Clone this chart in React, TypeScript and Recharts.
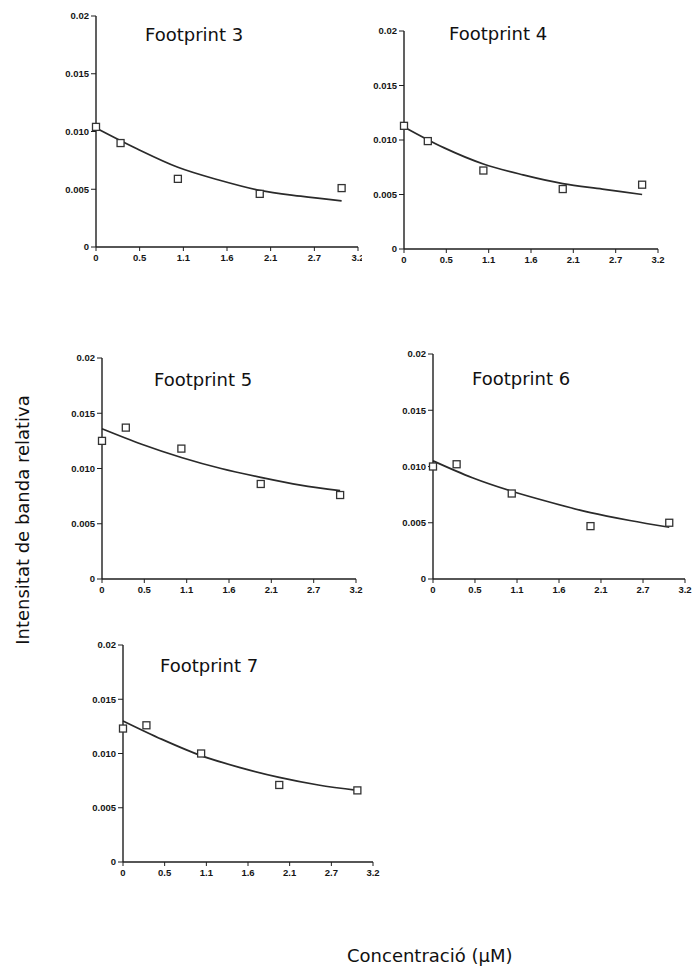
import React from 'react'
import { ComposedChart, Line, Scatter, XAxis, YAxis } from 'recharts'

// concentrations of the measured points (µM)
const conc = [0, 0.3, 1.0, 2.0, 3.0]
// concentrations where the fitted curve was read
const fitConc = [0, 0.5, 1.0, 1.5, 2.0, 2.5, 3.0]

const fp3Points = [0.0104, 0.0090, 0.0059, 0.0046, 0.0051]
const fp3Fit = [0.0103, 0.0085, 0.0069, 0.0058, 0.0049, 0.0044, 0.0040]

const fp4Points = [0.0113, 0.0099, 0.0072, 0.0055, 0.0059]
const fp4Fit = [0.0112, 0.0093, 0.0078, 0.0068, 0.0060, 0.0055, 0.0050]

const fp5Points = [0.0125, 0.0137, 0.0118, 0.0086, 0.0076]
const fp5Fit = [0.0136, 0.0122, 0.0110, 0.0100, 0.0092, 0.0085, 0.0080]

const fp6Points = [0.0100, 0.0102, 0.0076, 0.0047, 0.0050]
const fp6Fit = [0.0105, 0.0090, 0.0078, 0.0068, 0.0059, 0.0052, 0.0046]

const fp7Points = [0.0123, 0.0126, 0.0100, 0.0071, 0.0066]
const fp7Fit = [0.0130, 0.0113, 0.0098, 0.0087, 0.0078, 0.0071, 0.0066]

const xTicks = [0, 0.533, 1.067, 1.6, 2.133, 2.667, 3.2]
const xTickLabels = ['0', '0.5', '1.1', '1.6', '2.1', '2.7', '3.2']
const yTicks = [0, 0.005, 0.01, 0.015, 0.02]
const yTickLabels = ['0', '0.005', '0.010', '0.015', '0.02']

const INK = '#1e1e1e'
const tickFont = { fontSize: 9.5, fontWeight: 700, fill: '#151515', fontFamily: '"Liberation Sans Narrow", "Liberation Sans", Arial, sans-serif' }

const ML = 45
const MT = 5
const MR = 15
const XH = 25

const toPoints = (ys: number[]) => ys.map((y, i) => ({ x: conc[i], y }))
const toFit = (ys: number[]) => ys.map((y, i) => ({ x: fitConc[i], y }))

const Square = (props: any) => {
  const { cx, cy } = props
  if (cx == null || cy == null) return null
  return <rect x={cx - 3.5} y={cy - 3.5} width={7} height={7} fill="#fff" stroke="#333" strokeWidth={1.3} />
}

interface PanelProps {
  title: string
  points: number[]
  fit: number[]
  box: { left: number; top: number; width: number; height: number }
  titlePos: { left: number; top: number }
  clipRight?: number
}

function Panel({ title, points, fit, box, titlePos, clipRight }: PanelProps) {
  const chartLeft = box.left - ML
  const chartTop = box.top - MT
  const w = ML + box.width + MR
  const h = MT + box.height + XH
  const outerW = clipRight ? clipRight - chartLeft : w
  return (
    <>
      <div style={{ position: 'absolute', left: chartLeft, top: chartTop, width: outerW, height: h, overflow: 'hidden' }}>
        <ComposedChart width={w} height={h} margin={{ top: MT, right: MR, bottom: 0, left: 0 }}>
          <XAxis
            type="number"
            dataKey="x"
            domain={[0, 3.2]}
            ticks={xTicks}
            interval={0}
            tickFormatter={(_v: number, i: number) => xTickLabels[i]}
            tick={tickFont}
            tickSize={4}
            tickMargin={3}
            height={XH}
            axisLine={{ stroke: INK, strokeWidth: 1.6 }}
            tickLine={{ stroke: INK, strokeWidth: 1 }}
          />
          <YAxis
            type="number"
            dataKey="y"
            domain={[0, 0.02]}
            ticks={yTicks}
            interval={0}
            tickFormatter={(_v: number, i: number) => yTickLabels[i]}
            tick={tickFont}
            tickSize={5}
            tickMargin={2}
            width={ML}
            axisLine={{ stroke: INK, strokeWidth: 1.4 }}
            tickLine={{ stroke: INK, strokeWidth: 1 }}
          />
          <Line
            data={toFit(fit)}
            dataKey="y"
            type="monotone"
            stroke="#2a2a2a"
            strokeWidth={1.7}
            dot={false}
            isAnimationActive={false}
          />
          <Scatter data={toPoints(points)} dataKey="y" shape={Square} isAnimationActive={false} />
        </ComposedChart>
      </div>
      <div
        style={{
          position: 'absolute',
          left: titlePos.left,
          top: titlePos.top,
          fontFamily: '"DejaVu Sans", Verdana, sans-serif',
          fontSize: 18,
          lineHeight: '18px',
          color: '#111',
          whiteSpace: 'nowrap',
        }}
      >
        {title}
      </div>
    </>
  )
}

export default function App() {
  return (
    <div style={{ position: 'absolute', left: 0, top: 0, width: 693, height: 968, background: '#fff', overflow: 'hidden' }}>
      <Panel
        title="Footprint 3"
        points={fp3Points}
        fit={fp3Fit}
        box={{ left: 96, top: 16, width: 262, height: 231 }}
        titlePos={{ left: 145, top: 26 }}
        clipRight={362}
      />
      <Panel
        title="Footprint 4"
        points={fp4Points}
        fit={fp4Fit}
        box={{ left: 404, top: 31, width: 254, height: 218 }}
        titlePos={{ left: 449, top: 25 }}
      />
      <Panel
        title="Footprint 5"
        points={fp5Points}
        fit={fp5Fit}
        box={{ left: 102, top: 358, width: 254, height: 221 }}
        titlePos={{ left: 154, top: 371 }}
      />
      <Panel
        title="Footprint 6"
        points={fp6Points}
        fit={fp6Fit}
        box={{ left: 433, top: 354, width: 252, height: 225 }}
        titlePos={{ left: 472, top: 370 }}
      />
      <Panel
        title="Footprint 7"
        points={fp7Points}
        fit={fp7Fit}
        box={{ left: 123, top: 645, width: 250, height: 217 }}
        titlePos={{ left: 160, top: 657 }}
      />
      <svg width={693} height={968} style={{ position: 'absolute', left: 0, top: 0, pointerEvents: 'none' }}>
        <text
          transform="translate(29,520) rotate(-90)"
          textAnchor="middle"
          fontFamily='"DejaVu Sans", Verdana, sans-serif'
          fontSize={18}
          fill="#111"
        >
          Intensitat de banda relativa
        </text>
        <text x={347} y={962} fontFamily='"DejaVu Sans", Verdana, sans-serif' fontSize={18} fill="#111">
          Concentració (µM)
        </text>
      </svg>
    </div>
  )
}
